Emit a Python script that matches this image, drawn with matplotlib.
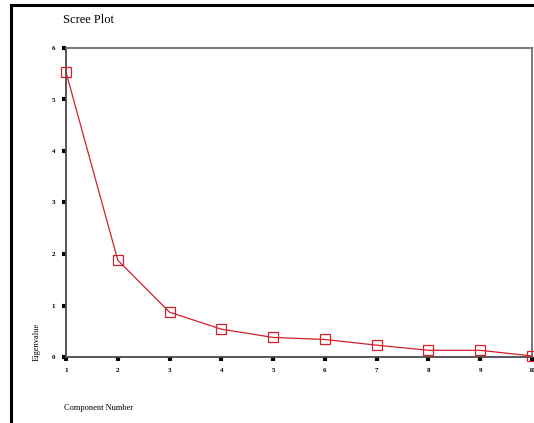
from matplotlib import pyplot as plt
from matplotlib.lines import Line2D

plt.rc('font', family='Liberation Serif')

components = [1, 2, 3, 4, 5, 6, 7, 8, 9, 10]
eigenvalues = [5.53, 1.88, 0.87, 0.54, 0.38, 0.34, 0.23, 0.13, 0.13, 0.02]
yticks = [0, 1, 2, 3, 4, 5, 6]

W, H = 534, 423
fig = plt.figure(figsize=(W / 100, H / 100), dpi=100)
ax = fig.add_axes([66 / W, 1 - 357 / H, (532 - 66) / W, (357 - 48) / H])

ax.plot(components, eigenvalues, color='#d0202a', lw=0.9, marker='s',
        markersize=7, markerfacecolor='none', markeredgecolor='#d0202a',
        markeredgewidth=0.9, clip_on=False, zorder=3)

ax.set_xlim(1, 10)
ax.set_ylim(0, 6)
ax.set_xticks(components)
ax.set_yticks(yticks)
ax.tick_params(which='major', direction='out', length=3, width=3,
               color='black', labelsize=5, pad=5)
for lbl in ax.get_xticklabels() + ax.get_yticklabels():
    lbl.set_fontweight('bold')

for side in ['left', 'bottom']:
    ax.spines[side].set_color('#4a4a4a')
    ax.spines[side].set_linewidth(1.3)
for side in ['top', 'right']:
    ax.spines[side].set_color('#6e6e6e')
    ax.spines[side].set_linewidth(1.3)

fig.text(63 / W, 1 - 20 / H, 'Scree Plot', fontsize=9, va='center', ha='left')
fig.text(64 / W, 1 - 408 / H, 'Component Number', fontsize=6, va='center',
         ha='left')
fig.text(37 / W, 1 - 342 / H, 'Eigenvalue', fontsize=6, va='center',
         ha='center', rotation=90)

# outer frame (left and top only)
fig.add_artist(Line2D([11 / W, 11 / W], [0, 1 - 5 / H], color='black',
                      lw=2.2, transform=fig.transFigure))
fig.add_artist(Line2D([11 / W, 1], [1 - 5 / H, 1 - 5 / H], color='black',
                      lw=2.2, transform=fig.transFigure))

fig.savefig('out.png', dpi=100)
